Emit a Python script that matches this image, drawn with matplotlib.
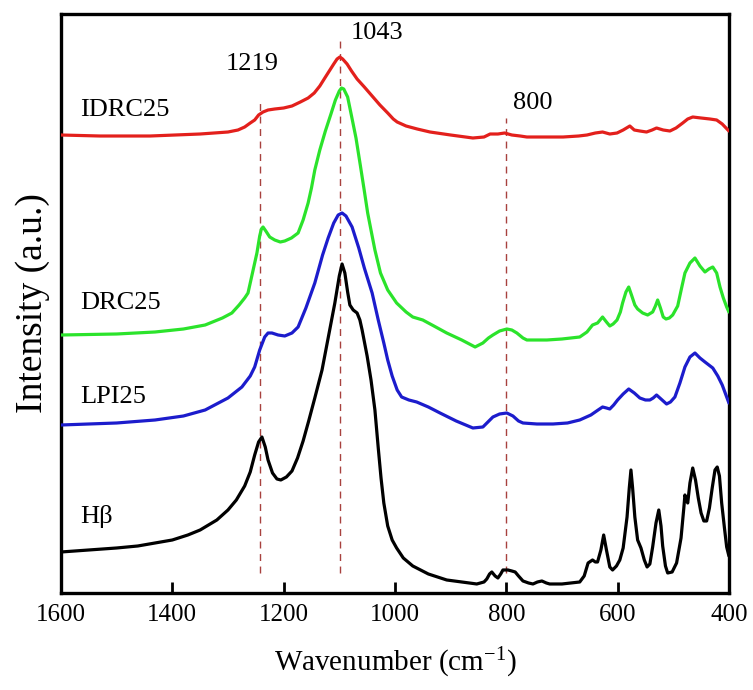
import matplotlib
matplotlib.use("Agg")
import matplotlib.pyplot as plt

plt.rcParams['font.family'] = ['Liberation Serif', 'DejaVu Serif']
plt.rcParams['mathtext.fontset'] = 'custom'
plt.rcParams['mathtext.rm'] = 'Liberation Serif'
plt.rcParams['mathtext.it'] = 'Liberation Serif:italic'

# ---- data (wavenumber cm^-1, offset intensity a.u.) ----
idrc_w = [1600, 1530, 1440, 1350, 1300, 1282, 1270, 1260, 1252, 1245, 1237, 1228, 1216, 1200, 1185,
          1170, 1156, 1145, 1135, 1126, 1118, 1110, 1104, 1099, 1094, 1086, 1078, 1068, 1055, 1041,
          1027, 1013, 1003, 996, 980, 960, 937, 900, 860, 840, 829, 815, 803, 790, 775, 763, 730,
          698, 670, 655, 640, 627, 614, 601, 590, 578, 570, 560, 548, 538, 530, 518, 506, 495, 483,
          474, 465, 450, 434, 422, 412, 400]
idrc_i = [453, 452, 452, 454, 456, 458, 461, 465, 468, 473, 476, 478, 479, 480, 482,
          486, 490, 495, 502, 510, 517, 524, 529, 531, 529, 524, 517, 509, 501, 492,
          483, 475, 469, 466, 462, 459, 456, 453, 450, 451, 454, 454, 455, 453, 452, 451, 451,
          451, 452, 453, 455, 456, 454, 455, 458, 462, 458, 457, 456, 458, 460, 458, 457, 460, 465,
          469, 471, 470, 469, 468, 464, 457]

drc_w = [1600, 1500, 1431, 1380, 1341, 1310, 1293, 1280, 1270, 1264, 1258, 1252, 1248, 1243, 1240,
         1237, 1232, 1225, 1216, 1206, 1198, 1186, 1174, 1165, 1156, 1150, 1144, 1135, 1125, 1115,
         1107, 1100, 1096, 1092, 1085, 1078, 1070, 1062, 1055, 1049, 1042, 1036, 1026, 1013, 997,
         980, 968, 950, 930, 907, 880, 856, 842, 832, 824, 812, 799, 790, 781, 770, 763, 745, 727,
         700, 668, 655, 645, 636, 627, 620, 614, 608, 601, 595, 591, 585, 580, 575, 569, 564, 555,
         546, 537, 532, 528, 523, 518, 513, 507, 501, 492, 485, 479, 470, 461, 452, 443, 436, 429,
         422, 416, 410, 404, 400]
drc_i = [253, 254, 256, 259, 263, 270, 275, 283, 290, 295, 310, 325, 335, 352, 359,
         361, 357, 351, 348, 346, 347, 350, 355, 368, 385, 400, 418, 438, 457, 474,
         488, 497, 500, 499, 491, 472, 450, 422, 397, 375, 355, 338, 315, 298, 285,
         276, 271, 268, 262, 255, 248, 241, 245, 250, 253, 257, 259, 258, 255, 250, 248, 248, 248,
         249, 251, 256, 263, 265, 271, 266, 262, 264, 268, 276, 285, 296, 301, 293, 283, 279, 275,
         273, 276, 282, 288, 280, 271, 269, 270, 273, 282, 300, 315, 325, 330, 322, 316, 319, 321,
         315, 301, 290, 281, 276]

lpi_w = [1600, 1500, 1431, 1380, 1341, 1300, 1275, 1260, 1252, 1243, 1234, 1228, 1221, 1210, 1198,
         1185, 1174, 1160, 1144, 1130, 1120, 1110, 1102, 1095, 1088, 1077, 1065, 1055, 1041, 1030,
         1020, 1013, 1005, 996, 988, 975, 961, 940, 919, 890, 860, 842, 833, 824, 812, 799, 788,
         778, 770, 745, 716, 690, 668, 648, 635, 627, 620, 614, 607, 600, 590, 580, 570, 560, 550,
         542, 536, 530, 522, 512, 505, 497, 488, 479, 470, 461, 452, 443, 436, 429, 420, 412, 404, 400]
lpi_i = [163, 165, 168, 172, 178, 190, 201, 212, 221, 238, 251, 255, 255, 253, 252,
         255, 261, 280, 305, 333, 350, 365, 373, 375, 372, 361, 340, 320, 295, 268,
         245, 228, 212, 198, 191, 188, 186, 181, 175, 167, 160, 161, 166, 171, 174, 175, 172,
         167, 165, 164, 164, 165, 168, 173, 178, 181, 180, 179, 183, 188, 194, 199, 195, 190, 188,
         188, 190, 193, 189, 184, 186, 191, 205, 221, 231, 235, 230, 226, 223, 220, 212, 203, 191, 185]

hb_w = [1600, 1500, 1462, 1400, 1372, 1350, 1320, 1300, 1285, 1270, 1260, 1252, 1245, 1239, 1233,
        1228, 1220, 1212, 1205, 1195, 1185, 1175, 1165, 1155, 1144, 1131, 1120, 1108, 1100, 1095,
        1090, 1085, 1081, 1075, 1068, 1063, 1059, 1050, 1043, 1036, 1030, 1025, 1020, 1013, 1005,
        997, 985, 968, 940, 907, 880, 853, 840, 835, 830, 826, 820, 815, 810, 806, 797, 790, 784,
        778, 770, 760, 752, 744, 736, 728, 722, 700, 668, 660, 653, 645, 640, 636, 630, 625, 620,
        614, 609, 602, 596, 590, 583, 579, 576, 573, 569, 564, 558, 552, 547, 542, 537, 531, 526,
        522, 519, 514, 510, 502, 494, 486, 481, 479, 476, 474, 470, 465, 460, 455, 450, 445, 440,
        435, 430, 425, 421, 417, 413, 408, 404, 400]
hb_i = [36, 40, 42, 48, 53, 58, 68, 78, 88, 102, 116, 133, 146, 151, 141,
        128, 115, 109, 108, 111, 117, 130, 147, 167, 190, 218, 250, 285, 312, 324,
        315, 296, 283, 278, 275, 268, 258, 232, 208, 178, 140, 110, 85, 62, 48,
        40, 30, 22, 14, 8, 6, 4, 6, 9, 14, 16, 12, 10, 14, 18, 18, 17, 16,
        12, 7, 5, 4, 6, 7, 5, 4, 4, 6, 12, 25, 28, 26, 26, 38, 53, 38,
        21, 18, 22, 28, 40, 71, 100, 118, 100, 71, 48, 40, 28, 21, 24, 41, 65, 78,
        62, 42, 22, 15, 16, 25, 50, 80, 93, 88, 85, 105, 120, 108, 90, 75, 67, 67,
        80, 100, 118, 121, 112, 85, 60, 41, 32]

series_names = ['IDRC25', 'DRC25', 'LPI25', 'H\u03b2']
series_colors = ['#e3201c', '#2be32b', '#1c1ccc', '#000000']
label_y = [478, 285, 191, 71]

marker_w = [1242, 1098, 801]
marker_top = [488, 548, 470]
marker_text = ['1219', '1043', '800']
marker_text_w = [1257, 1032, 752]
marker_text_y = [524, 555, 485]

xticks = [1600, 1400, 1200, 1000, 800, 600, 400]

# ---- figure ----
fig = plt.figure(figsize=(7.53, 6.90), dpi=100)
ax = fig.add_axes([0.081, 0.1406, 0.887, 0.8391])

for w, i, c in zip([idrc_w, drc_w, lpi_w, hb_w], [idrc_i, drc_i, lpi_i, hb_i], series_colors):
    ax.plot(w, i, color=c, lw=2.3, solid_joinstyle='round', solid_capstyle='round', zorder=3)

for xw, top in zip(marker_w, marker_top):
    ax.plot([xw, xw], [15, top], color='#a8413e', lw=1.0, dashes=(5, 4), zorder=2)

for t, xw, yy in zip(marker_text, marker_text_w, marker_text_y):
    ax.text(xw, yy, t, fontsize=19, ha='center', va='center')

for name, yy in zip(series_names, label_y):
    ax.text(1565, yy, name, fontsize=19, ha='left', va='center')

ax.set_xlim(1600, 400)
ax.set_ylim(-5, 574)
ax.set_xticks(xticks)
ax.set_yticks([])
ax.tick_params(axis='x', direction='in', length=8, width=2, labelsize=18, pad=8)
for s in ax.spines.values():
    s.set_linewidth(2.4)

ax.set_xlabel('Wavenumber (cm$^{\\mathrm{-1}}$)', fontsize=21, labelpad=14)
ax.set_ylabel('Intensity (a.u.)', fontsize=27, labelpad=8)

fig.savefig('out.png', dpi=100)
